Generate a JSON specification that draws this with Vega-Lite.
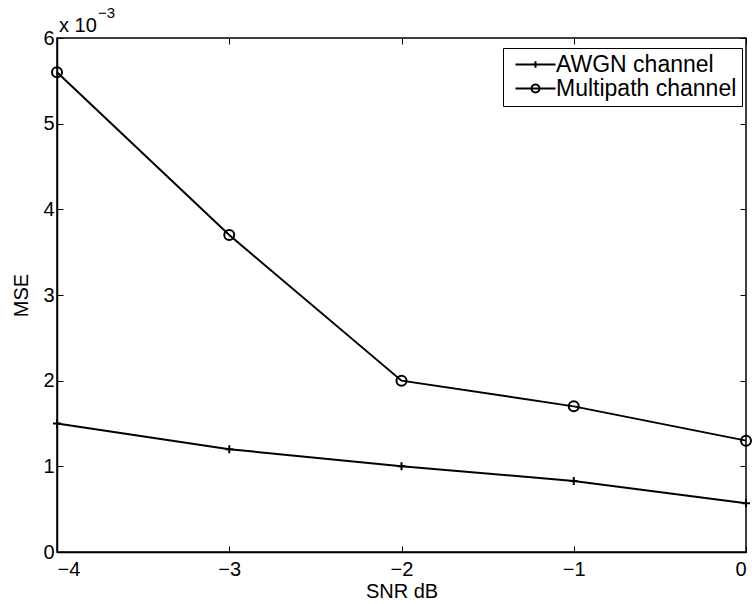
{
  "$schema": "https://vega.github.io/schema/vega-lite/v6.json",
  "width": 689,
  "height": 514,
  "autosize": {"type": "none"},
  "padding": {"left": 57, "top": 38, "right": 6, "bottom": 52},
  "background": "white",
  "config": {
    "font": "Liberation Sans",
    "view": {"stroke": "black", "strokeWidth": 1.5},
    "axis": {
      "domainColor": "black",
      "domainWidth": 1.5,
      "tickColor": "black",
      "tickWidth": 1,
      "tickSize": -6,
      "grid": false,
      "labelColor": "black",
      "labelFont": "Liberation Sans",
      "labelFontSize": 20,
      "titleColor": "black",
      "titleFont": "Liberation Sans",
      "titleFontSize": 20,
      "titleFontWeight": "normal"
    }
  },
  "data": {
    "values": [
      {"snr": -4, "mse": 1.5, "channel": "AWGN channel"},
      {"snr": -3, "mse": 1.2, "channel": "AWGN channel"},
      {"snr": -2, "mse": 1.0, "channel": "AWGN channel"},
      {"snr": -1, "mse": 0.83, "channel": "AWGN channel"},
      {"snr": 0, "mse": 0.57, "channel": "AWGN channel"},
      {"snr": -4, "mse": 5.6, "channel": "Multipath channel"},
      {"snr": -3, "mse": 3.7, "channel": "Multipath channel"},
      {"snr": -2, "mse": 2.0, "channel": "Multipath channel"},
      {"snr": -1, "mse": 1.7, "channel": "Multipath channel"},
      {"snr": 0, "mse": 1.3, "channel": "Multipath channel"}
    ]
  },
  "layer": [
    {
      "mark": {"type": "line", "color": "black", "strokeWidth": 2, "clip": false},
      "encoding": {
        "x": {
          "field": "snr", "type": "quantitative",
          "scale": {"domain": [-4, 0], "nice": false, "zero": false},
          "axis": {"orient": "bottom", "values": [-4, -3, -2, -1, 0], "format": "d", "title": "SNR dB", "labelPadding": 13, "titlePadding": 2}
        },
        "y": {
          "field": "mse", "type": "quantitative",
          "scale": {"domain": [0, 6], "nice": false},
          "axis": {"orient": "left", "values": [0, 1, 2, 3, 4, 5, 6], "format": "d", "title": "MSE", "labelPadding": 9, "titlePadding": 11}
        },
        "detail": {"field": "channel"}
      }
    },
    {
      "mark": {"type": "point", "filled": false, "color": "black", "strokeWidth": 2, "opacity": 1, "clip": false},
      "encoding": {
        "x": {
          "field": "snr", "type": "quantitative",
          "axis": {"orient": "top", "values": [-4, -3, -2, -1, 0], "labels": false, "title": null, "domain": false}
        },
        "y": {
          "field": "mse", "type": "quantitative",
          "axis": {"orient": "right", "values": [0, 1, 2, 3, 4, 5, 6], "labels": false, "title": null, "domain": false}
        },
        "shape": {
          "condition": {"test": "datum.channel === 'AWGN channel'", "value": "M-1,0H1M0,-1V1"},
          "value": "circle"
        },
        "size": {
          "condition": {"test": "datum.channel === 'AWGN channel'", "value": 64},
          "value": 100
        }
      }
    },
    {
      "mark": {"type": "point", "filled": false, "color": "black", "strokeWidth": 2, "opacity": 0, "clip": false},
      "encoding": {
        "x": {"field": "snr", "type": "quantitative", "axis": null},
        "y": {"field": "mse", "type": "quantitative", "axis": null},
        "shape": {
          "field": "channel", "type": "nominal",
          "scale": {
            "domain": ["AWGN channel", "Multipath channel"],
            "range": ["M-1,0H9M4,-0.8V0.8", "M-1,0H9M3,0A1,1 0 1,0 5,0A1,1 0 1,0 3,0"]
          },
          "legend": {
            "title": null,
            "orient": "none",
            "legendX": 446,
            "legendY": 10,
            "padding": 5,
            "strokeColor": "black",
            "fillColor": "white",
            "labelFont": "Liberation Sans",
            "labelFontSize": 23,
            "labelColor": "black",
            "labelLimit": 400,
            "labelOffset": 25,
            "rowPadding": -1,
            "symbolSize": 64,
            "symbolStrokeWidth": 2,
            "symbolOpacity": 1,
            "symbolStrokeColor": "black",
            "symbolFillColor": "transparent"
          }
        }
      }
    },
    {
      "data": {"values": [{"snr": -4, "mse": 6, "part": "x 10"}]},
      "mark": {"type": "text", "align": "left", "baseline": "alphabetic", "dx": 2, "dy": -6, "fontSize": 20, "color": "black", "font": "Liberation Sans"},
      "encoding": {
        "x": {"field": "snr", "type": "quantitative", "axis": null},
        "y": {"field": "mse", "type": "quantitative", "axis": null},
        "text": {"field": "part"}
      }
    },
    {
      "data": {"values": [{"snr": -4, "mse": 6, "part": "−3"}]},
      "mark": {"type": "text", "align": "left", "baseline": "alphabetic", "dx": 41, "dy": -20, "fontSize": 15, "color": "black", "font": "Liberation Sans"},
      "encoding": {
        "x": {"field": "snr", "type": "quantitative", "axis": null},
        "y": {"field": "mse", "type": "quantitative", "axis": null},
        "text": {"field": "part"}
      }
    }
  ],
  "resolve": {"axis": {"x": "independent", "y": "independent"}}
}
